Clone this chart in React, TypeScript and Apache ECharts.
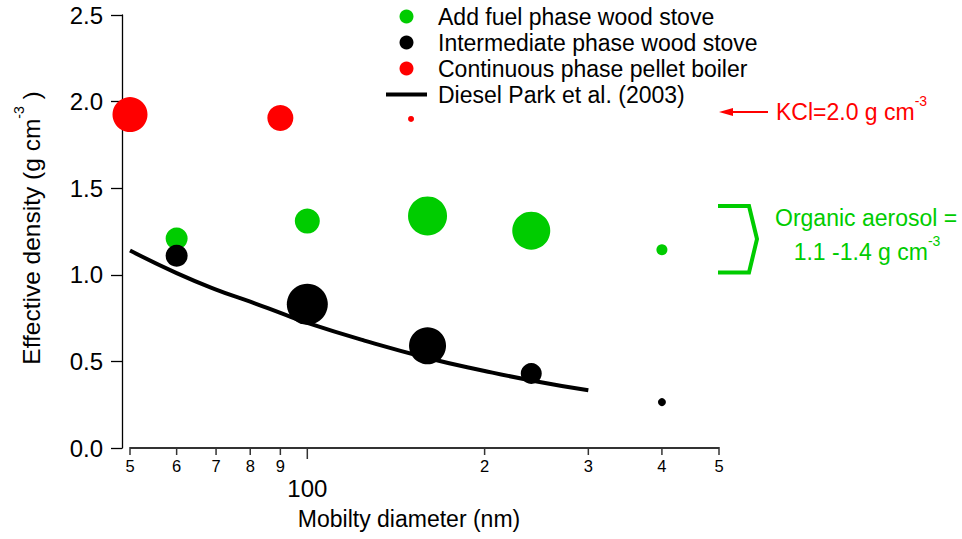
import React, { useEffect, useRef } from "react";
import * as echarts from "echarts";

const FONT = "'Liberation Sans', Arial, Helvetica, sans-serif";

// Add fuel phase wood stove
const addFuelDiameter = [60, 100, 160, 240, 400];
const addFuelDensity = [1.21, 1.31, 1.34, 1.255, 1.145];
const addFuelMarker = [22, 25, 39, 38, 11];

// Intermediate phase wood stove
const intermediateDiameter = [60, 100, 160, 240, 400];
const intermediateDensity = [1.11, 0.83, 0.59, 0.43, 0.265];
const intermediateMarker = [22, 41, 37, 21, 8];

// Continuous phase pellet boiler
const continuousDiameter = [50, 90, 150];
const continuousDensity = [1.925, 1.905, 1.9];
const continuousMarker = [35, 26, 6];

// Diesel Park et al. (2003)
const dieselDiameter = [50, 60, 70, 80, 90, 100, 125, 160, 200, 240, 300];
const dieselDensity = [1.14, 1.01, 0.915, 0.845, 0.78, 0.722, 0.62, 0.52, 0.445, 0.39, 0.333];

// x-axis tick values and labels (log axis)
const xTickValues = [50, 60, 70, 80, 90, 100, 200, 300, 400, 500];
const xTickLabels = ["5", "6", "7", "8", "9", "100", "2", "3", "4", "5"];

const seriesNames = [
  "Add fuel phase wood stove",
  "Intermediate phase wood stove",
  "Continuous phase pellet boiler",
  "Diesel Park et al. (2003)",
];

const GREEN = "#00cc00";
const RED = "#ff0000";

function zip3(a: number[], b: number[], c: number[]) {
  return a.map((v, i) => [v, b[i], c[i]]);
}

export default function App() {
  const ref = useRef<HTMLDivElement>(null);
  useEffect(() => {
    document.body.style.margin = "0";
    if (!ref.current) return;
    const chart = echarts.init(ref.current, undefined, { renderer: "svg" });

    const supRich = (color: string, size: number, lh: number) => ({
      a: { fontSize: size, fontFamily: FONT, fill: color, color, lineHeight: lh },
      s: { fontSize: 14, fontFamily: FONT, fill: color, color, verticalAlign: "top", lineHeight: 14 },
    });

    const option: any = {
      animation: false,
      backgroundColor: "#ffffff",
      grid: { left: 130, right: 243, top: 15, bottom: 91, containLabel: false },
      legend: {
        orient: "vertical",
        left: 386,
        top: 5,
        padding: 0,
        itemWidth: 41,
        itemHeight: 14,
        itemGap: 3,
        selectedMode: false,
        data: [
          { name: seriesNames[0], icon: "circle" },
          { name: seriesNames[1], icon: "circle" },
          { name: seriesNames[2], icon: "circle" },
          { name: seriesNames[3], icon: "path://M0,0 L41,0 L41,4 L0,4 Z" },
        ],
        textStyle: { fontSize: 23, fontFamily: FONT, color: "#000", padding: [0, 0, 0, 6] },
      },
      xAxis: {
        type: "log",
        logBase: 10,
        min: 50,
        max: 500,
        axisLine: { show: true, lineStyle: { color: "#333", width: 2 } },
        axisTick: { show: false },
        axisLabel: { show: false },
        splitLine: { show: false },
        minorTick: { show: false },
      },
      yAxis: {
        type: "value",
        min: 0,
        max: 2.5,
        interval: 0.5,
        offset: 8,
        axisLine: { show: true, lineStyle: { color: "#000", width: 1.3 } },
        axisTick: { show: true, length: 11, lineStyle: { color: "#000", width: 1.3 } },
        axisLabel: {
          formatter: (v: number) => v.toFixed(1),
          fontSize: 24,
          fontFamily: FONT,
          color: "#000",
          margin: 19,
        },
        splitLine: { show: false },
      },
      series: [
        {
          name: seriesNames[3],
          type: "line",
          data: dieselDiameter.map((d, i) => [d, dieselDensity[i]]),
          smooth: true,
          symbol: "none",
          lineStyle: { color: "#000", width: 4 },
          itemStyle: { color: "#000" },
          z: 2,
        },
        {
          name: seriesNames[0],
          type: "scatter",
          data: zip3(addFuelDiameter, addFuelDensity, addFuelMarker),
          symbol: "circle",
          symbolSize: (v: number[]) => v[2],
          itemStyle: { color: GREEN, opacity: 1 },
          z: 3,
        },
        {
          name: seriesNames[1],
          type: "scatter",
          data: zip3(intermediateDiameter, intermediateDensity, intermediateMarker),
          symbol: "circle",
          symbolSize: (v: number[]) => v[2],
          itemStyle: { color: "#000", opacity: 1 },
          z: 4,
        },
        {
          name: seriesNames[2],
          type: "scatter",
          data: zip3(continuousDiameter, continuousDensity, continuousMarker),
          symbol: "circle",
          symbolSize: (v: number[]) => v[2],
          itemStyle: { color: RED, opacity: 1 },
          z: 5,
        },
        {
          name: "xticks",
          type: "custom",
          silent: true,
          clip: false,
          z: 6,
          data: xTickValues.map((v) => [v, 0]),
          renderItem: (params: any, api: any) => {
            const v = api.value(0);
            const p = api.coord([v, 0]);
            const label = xTickLabels[params.dataIndex];
            const major = label === "100";
            const y0 = p[1] + 1;
            return {
              type: "group",
              children: [
                {
                  type: "line",
                  shape: { x1: p[0], y1: y0, x2: p[0], y2: y0 + (major ? 10 : 6) },
                  style: { stroke: "#333", lineWidth: 1.5 },
                },
                {
                  type: "text",
                  x: p[0],
                  y: major ? 488 : 466,
                  style: {
                    text: label,
                    fontSize: major ? 24 : 16.5,
                    fontFamily: FONT,
                    fill: "#000",
                    align: "center",
                    textAlign: "center",
                    verticalAlign: "middle",
                    textVerticalAlign: "middle",
                  },
                },
              ],
            };
          },
        },
      ],
      graphic: [
        {
          type: "text",
          x: 31,
          y: 228,
          rotation: Math.PI / 2,
          silent: true,
          style: {
            text: "{a|Effective density (g cm}{s|-3}{a| )}",
            rich: supRich("#000", 24.5, 38),
            align: "center",
            textAlign: "center",
            verticalAlign: "middle",
            textVerticalAlign: "middle",
          },
        },
        {
          type: "text",
          x: 409,
          y: 519,
          silent: true,
          style: {
            text: "Mobilty diameter (nm)",
            fontSize: 23,
            fontFamily: FONT,
            fill: "#000",
            align: "center",
            textAlign: "center",
            verticalAlign: "middle",
            textVerticalAlign: "middle",
          },
        },
        {
          type: "line",
          silent: true,
          shape: { x1: 768, y1: 112, x2: 728, y2: 112 },
          style: { stroke: RED, lineWidth: 2 },
        },
        {
          type: "polygon",
          silent: true,
          shape: { points: [[719, 112], [733, 108], [733, 116]] },
          style: { fill: RED },
        },
        {
          type: "text",
          x: 776,
          y: 112,
          silent: true,
          style: {
            text: "{a|KCl=2.0 g cm}{s|-3}",
            rich: supRich(RED, 23, 36),
            align: "left",
            textAlign: "left",
            verticalAlign: "middle",
            textVerticalAlign: "middle",
          },
        },
        {
          type: "polyline",
          silent: true,
          shape: {
            points: [
              [718, 206],
              [749, 206],
              [757, 239],
              [749, 272.5],
              [718, 272.5],
            ],
          },
          style: { stroke: GREEN, lineWidth: 4, fill: null },
        },
        {
          type: "text",
          x: 775,
          y: 218,
          silent: true,
          style: {
            text: "Organic aerosol =",
            fontSize: 23,
            fontFamily: FONT,
            fill: GREEN,
            align: "left",
            textAlign: "left",
            verticalAlign: "middle",
            textVerticalAlign: "middle",
          },
        },
        {
          type: "text",
          x: 867,
          y: 252,
          silent: true,
          style: {
            text: "{a|1.1 -1.4 g cm}{s|-3}",
            rich: supRich(GREEN, 23, 36),
            align: "center",
            textAlign: "center",
            verticalAlign: "middle",
            textVerticalAlign: "middle",
          },
        },
      ],
    };

    chart.setOption(option);
    return () => {
      chart.dispose();
    };
  }, []);

  return (
    <div
      ref={ref}
      style={{ width: 962, height: 539, position: "fixed", left: 0, top: 0, background: "#fff" }}
    />
  );
}
